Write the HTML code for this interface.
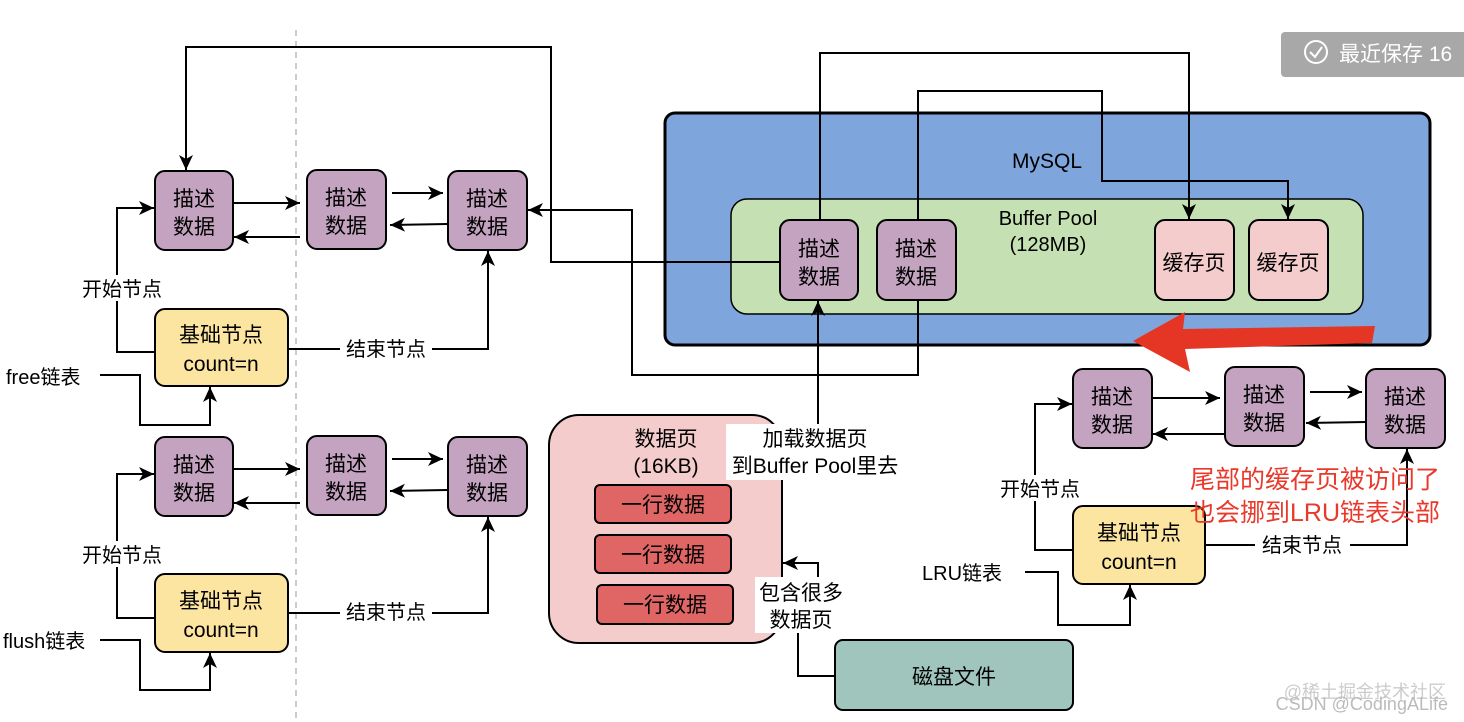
<!DOCTYPE html>
<html><head><meta charset="utf-8"><style>
html,body{margin:0;padding:0;background:#fff;}
svg{display:block;font-family:"Liberation Sans","Noto Sans CJK SC",sans-serif;}
</style></head><body>
<svg width="1464" height="722" viewBox="0 0 1464 722" xmlns="http://www.w3.org/2000/svg">
<defs>
<marker id="ar2" markerWidth="16" markerHeight="16" refX="15" refY="8" orient="auto" markerUnits="userSpaceOnUse">
<path d="M0,1 L15,8 L0,15 L4,8 Z" fill="#000"/>
</marker>
</defs>
<line x1="296" y1="30" x2="296" y2="722" stroke="#bbb" stroke-width="1.5" stroke-dasharray="6,5"/>

<rect x="665" y="113" width="765" height="232" rx="10" fill="#7fa6dc" stroke="#000" stroke-width="3"/>
<text x="1047" y="168" font-size="21" text-anchor="middle">MySQL</text>
<rect x="731" y="199" width="632" height="115" rx="16" fill="#c5e0b3" stroke="#000" stroke-width="1.5"/>
<text x="1048" y="225" font-size="20" text-anchor="middle">Buffer Pool</text>
<text x="1048" y="251" font-size="20" text-anchor="middle">(128MB)</text>

<g font-size="21" text-anchor="middle">
<g fill="#c3a3c0" stroke="#000" stroke-width="2">
<rect x="155" y="171" width="78" height="79" rx="10"/>
<rect x="307" y="170" width="79" height="79" rx="10"/>
<rect x="448" y="171" width="79" height="79" rx="10"/>
<rect x="155" y="437" width="78" height="79" rx="10"/>
<rect x="307" y="436" width="79" height="79" rx="10"/>
<rect x="448" y="437" width="79" height="79" rx="10"/>
<rect x="780" y="220" width="78" height="80" rx="10"/>
<rect x="877" y="220" width="79" height="80" rx="10"/>
<rect x="1073" y="369" width="79" height="79" rx="10"/>
<rect x="1225" y="367" width="79" height="79" rx="10"/>
<rect x="1366" y="369" width="79" height="79" rx="10"/>
</g>
<g>
<text x="194" y="206">描述</text><text x="194" y="234">数据</text>
<text x="346" y="205">描述</text><text x="346" y="233">数据</text>
<text x="487" y="206">描述</text><text x="487" y="234">数据</text>
<text x="194" y="472">描述</text><text x="194" y="500">数据</text>
<text x="346" y="471">描述</text><text x="346" y="499">数据</text>
<text x="487" y="472">描述</text><text x="487" y="500">数据</text>
<text x="819" y="256">描述</text><text x="819" y="284">数据</text>
<text x="916" y="256">描述</text><text x="916" y="284">数据</text>
<text x="1112" y="404">描述</text><text x="1112" y="432">数据</text>
<text x="1264" y="402">描述</text><text x="1264" y="430">数据</text>
<text x="1405" y="404">描述</text><text x="1405" y="432">数据</text>
</g>
<rect x="1155" y="220" width="79" height="80" rx="10" fill="#f4cccc" stroke="#000" stroke-width="2"/>
<rect x="1249" y="220" width="79" height="80" rx="10" fill="#f4cccc" stroke="#000" stroke-width="2"/>
<text x="1194" y="270">缓存页</text><text x="1288" y="270">缓存页</text>
<g fill="#fce5a0" stroke="#000" stroke-width="2">
<rect x="155" y="309" width="133" height="77" rx="10"/>
<rect x="155" y="574" width="133" height="78" rx="10"/>
<rect x="1073" y="506" width="132" height="78" rx="10"/>
</g>
<text x="221" y="342">基础节点</text><text x="221" y="371">count=n</text>
<text x="221" y="608">基础节点</text><text x="221" y="637">count=n</text>
<text x="1139" y="540">基础节点</text><text x="1139" y="569">count=n</text>
</g>

<g fill="none" stroke="#000" stroke-width="2">
<line x1="233" y1="203" x2="300" y2="203" marker-end="url(#ar2)"/>
<line x1="300" y1="237" x2="234" y2="237" marker-end="url(#ar2)"/>
<line x1="392" y1="193" x2="443" y2="193" marker-end="url(#ar2)"/>
<line x1="447" y1="224" x2="390" y2="225" marker-end="url(#ar2)"/>
<polyline points="155,352 117,352 117,208 154,208" marker-end="url(#ar2)"/>
<polyline points="288,349 340,349"/>
<polyline points="432,349 488,349 488,251" marker-end="url(#ar2)"/>
<polyline points="100,375 140,375 140,425 210,425 210,387" marker-end="url(#ar2)"/>
<line x1="233" y1="469" x2="300" y2="469" marker-end="url(#ar2)"/>
<line x1="300" y1="503" x2="234" y2="503" marker-end="url(#ar2)"/>
<line x1="392" y1="459" x2="443" y2="459" marker-end="url(#ar2)"/>
<line x1="447" y1="490" x2="390" y2="491" marker-end="url(#ar2)"/>
<polyline points="155,618 117,618 117,474 154,474" marker-end="url(#ar2)"/>
<polyline points="288,613 340,613"/>
<polyline points="432,613 488,613 488,517" marker-end="url(#ar2)"/>
<polyline points="100,640 140,640 140,690 210,690 210,653" marker-end="url(#ar2)"/>
<polyline points="780,262 551,262 551,47 186,47 186,170" marker-end="url(#ar2)"/>
<polyline points="918,300 918,375 632,375 632,210 528,210" marker-end="url(#ar2)"/>
<polyline points="820,220 820,53 1189,53 1189,219" marker-end="url(#ar2)"/>
<polyline points="918,220 918,91 1102,91 1102,181 1288,181 1288,219" marker-end="url(#ar2)"/>
<polyline points="818,425 818,301" marker-end="url(#ar2)"/>
<line x1="1152" y1="398" x2="1220" y2="398" marker-end="url(#ar2)"/>
<line x1="1224" y1="434" x2="1153" y2="434" marker-end="url(#ar2)"/>
<line x1="1310" y1="392" x2="1362" y2="392" marker-end="url(#ar2)"/>
<line x1="1366" y1="422" x2="1306" y2="423" marker-end="url(#ar2)"/>
<polyline points="1073,550 1035,550 1035,404 1072,404" marker-end="url(#ar2)"/>
<polyline points="1205,545 1255,545"/>
<polyline points="1350,545 1407,545 1407,449" marker-end="url(#ar2)"/>
<polyline points="1025,572 1058,572 1058,625 1130,625 1130,585" marker-end="url(#ar2)"/>
<polyline points="818,592 818,563 783,563" marker-end="url(#ar2)"/>
<polyline points="798,632 798,676 835,676"/>
<line x1="706" y1="447" x2="724" y2="447"/>
</g>

<rect x="549" y="415" width="233" height="228" rx="30" fill="#f4cccc" stroke="#000" stroke-width="2"/>
<text x="666" y="446" font-size="21" text-anchor="middle">数据页</text>
<text x="666" y="473" font-size="21" text-anchor="middle">(16KB)</text>
<g fill="#e06666" stroke="#000" stroke-width="2">
<rect x="595" y="485" width="136" height="38" rx="5"/>
<rect x="595" y="535" width="136" height="38" rx="5"/>
<rect x="597" y="585" width="136" height="39" rx="5"/>
</g>
<g font-size="21" text-anchor="middle">
<text x="663" y="512">一行数据</text><text x="663" y="562">一行数据</text><text x="665" y="612">一行数据</text>
</g>
<rect x="726" y="424" width="182" height="56" fill="#fff"/>
<text x="815" y="446" font-size="21" text-anchor="middle">加载数据页</text>
<text x="815" y="473" font-size="21" text-anchor="middle">到Buffer Pool里去</text>
<rect x="755" y="577" width="92" height="56" fill="#fff"/>
<text x="801" y="600" font-size="21" text-anchor="middle">包含很多</text>
<text x="801" y="627" font-size="21" text-anchor="middle">数据页</text>
<rect x="835" y="640" width="238" height="70" rx="8" fill="#a0c5bc" stroke="#000" stroke-width="2"/>
<text x="954" y="684" font-size="21" text-anchor="middle">磁盘文件</text>

<g font-size="20">
<rect x="74" y="275" width="96" height="26" fill="#fff"/>
<text x="122" y="296" text-anchor="middle">开始节点</text>
<text x="386" y="356" text-anchor="middle">结束节点</text>
<text x="6" y="384">free链表</text>
<rect x="74" y="541" width="96" height="26" fill="#fff"/>
<text x="122" y="562" text-anchor="middle">开始节点</text>
<text x="386" y="619" text-anchor="middle">结束节点</text>
<text x="3" y="648">flush链表</text>
<rect x="992" y="475" width="96" height="26" fill="#fff"/>
<text x="1040" y="496" text-anchor="middle">开始节点</text>
<text x="1302" y="552" text-anchor="middle">结束节点</text>
<text x="922" y="580">LRU链表</text>
</g>
<text x="1315" y="488" font-size="25" fill="#e8392b" text-anchor="middle">尾部的缓存页被访问了</text>
<text x="1315" y="521" font-size="25" fill="#e8392b" text-anchor="middle">也会挪到LRU链表头部</text>

<polygon points="1375,326 1372,343 1185,349 1190,372 1133,341 1185,312 1183,329" fill="#e53524"/>

<rect x="1281" y="32" width="190" height="45" rx="4" fill="#a8a8a8"/>
<circle cx="1316" cy="52" r="11" fill="none" stroke="#fff" stroke-width="2"/>
<polyline points="1310,52 1315,57 1322,47" fill="none" stroke="#fff" stroke-width="2"/>
<text x="1339" y="61" font-size="21" fill="#fff">最近保存 16</text>

<text x="1446" y="698" font-size="18" fill="#ccc" text-anchor="end">@稀土掘金技术社区</text>
<text x="1448" y="710" font-size="18" fill="#bbb" text-anchor="end">CSDN @CodingALife</text>
</svg>
</body></html>
